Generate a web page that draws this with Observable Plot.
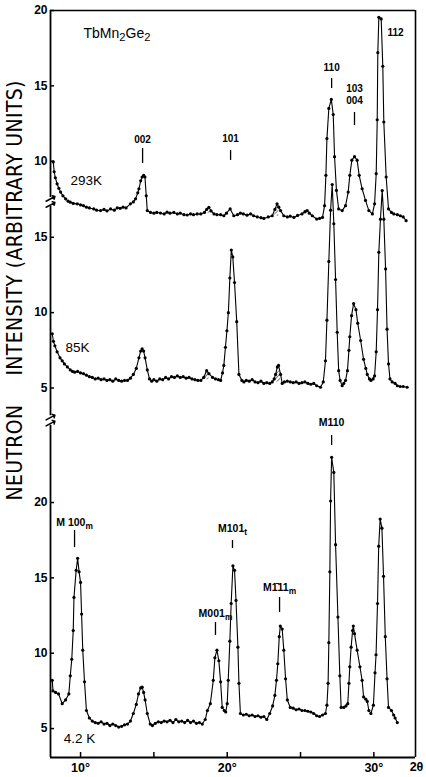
<!DOCTYPE html>
<html><head><meta charset="utf-8">
<script src="https://cdn.jsdelivr.net/npm/d3@7"></script>
<script src="https://cdn.jsdelivr.net/npm/@observablehq/plot@0.6"></script>
<style>body{margin:0;background:#fff}svg{display:block}</style>
</head><body><div id="chart"></div>
<script>
// ---- data: [2θ (deg), intensity (arbitrary units)] ----
const scan293K = [[8.14,9.95],[8.2,9.3],[8.28,8.9],[8.4,8.5],[8.52,8.2],[8.64,7.95],[8.8,7.7],[8.98,7.5],[9.15,7.35],[9.3,7.28],[9.5,7.2],[9.77,7.17],[10.0,7.1],[10.2,7.05],[10.4,6.95],[10.6,6.9],[10.9,6.83],[11.1,6.75],[11.36,6.72],[11.6,6.8],[11.8,6.7],[12.05,6.83],[12.3,6.75],[12.5,6.9],[12.7,6.87],[12.9,6.95],[13.1,6.9],[13.4,7.17],[13.6,7.3],[13.75,7.5],[13.9,7.9],[13.98,8.17],[14.1,8.7],[14.2,8.95],[14.3,9.06],[14.39,8.95],[14.48,7.7],[14.55,6.72],[14.77,6.6],[15.0,6.55],[15.2,6.6],[15.45,6.56],[15.7,6.5],[15.9,6.62],[16.1,6.55],[16.36,6.6],[16.6,6.5],[16.8,6.55],[17.05,6.45],[17.27,6.43],[17.5,6.5],[17.7,6.45],[17.95,6.5],[18.2,6.5],[18.45,6.6],[18.6,6.8],[18.75,6.94],[18.9,6.7],[19.1,6.5],[19.3,6.45],[19.55,6.45],[19.77,6.38],[19.95,6.55],[20.2,6.83],[20.45,6.38],[20.7,6.45],[20.9,6.55],[21.1,6.5],[21.35,6.42],[21.6,6.5],[21.8,6.38],[22.05,6.3],[22.3,6.25],[22.5,6.2],[22.8,6.3],[23.07,6.38],[23.25,6.8],[23.4,7.17],[23.52,6.95],[23.64,6.72],[23.86,6.38],[24.1,6.3],[24.3,6.35],[24.55,6.27],[24.8,6.4],[25.1,6.5],[25.3,6.65],[25.45,6.72],[25.6,6.55],[25.8,6.38],[26.1,6.16],[26.3,6.2],[26.5,6.27],[26.64,7.05],[26.73,9.06],[26.8,11.5],[26.93,13.5],[27.1,14.1],[27.23,13.1],[27.32,10.3],[27.45,8.06],[27.6,6.83],[27.84,6.72],[28.07,7.05],[28.25,7.95],[28.36,9.06],[28.5,10.07],[28.68,10.3],[28.86,10.07],[29.0,9.06],[29.2,8.17],[29.43,7.4],[29.66,6.72],[29.9,6.5],[30.05,7.17],[30.16,9.17],[30.23,12.75],[30.27,17.2],[30.34,19.55],[30.5,19.44],[30.61,16.3],[30.68,12.6],[30.84,8.95],[31.0,6.83],[31.2,6.6],[31.36,6.5],[31.6,6.45],[31.8,6.38],[32.0,6.3],[32.2,6.05]];

const scan85K = [[8.07,8.6],[8.15,8.1],[8.25,7.8],[8.4,7.4],[8.6,7.0],[8.75,6.8],[8.9,6.6],[9.1,6.4],[9.3,6.2],[9.45,6.1],[9.6,6.05],[9.8,6.1],[10.0,6.0],[10.2,5.95],[10.4,5.85],[10.6,5.75],[10.8,5.7],[11.0,5.6],[11.2,5.65],[11.4,5.55],[11.6,5.6],[11.8,5.5],[12.0,5.55],[12.2,5.45],[12.4,5.6],[12.6,5.5],[12.8,5.45],[13.0,5.5],[13.2,5.5],[13.4,5.65],[13.6,5.9],[13.8,6.3],[13.98,7.0],[14.1,7.45],[14.2,7.6],[14.3,7.45],[14.4,7.0],[14.55,6.2],[14.7,5.6],[14.85,5.45],[15.0,5.55],[15.2,5.45],[15.4,5.6],[15.6,5.55],[15.8,5.7],[16.0,5.6],[16.2,5.75],[16.4,5.7],[16.6,5.8],[16.8,5.7],[17.0,5.75],[17.2,5.65],[17.4,5.7],[17.6,5.6],[17.8,5.55],[18.0,5.5],[18.2,5.5],[18.4,5.7],[18.6,6.15],[18.75,5.95],[19.0,5.7],[19.2,5.6],[19.4,5.55],[19.55,5.5],[19.68,6.0],[19.77,6.5],[19.88,7.7],[19.98,8.8],[20.08,10.0],[20.18,12.3],[20.28,14.15],[20.38,13.7],[20.5,12.0],[20.65,9.4],[20.8,5.9],[21.0,5.5],[21.14,5.4],[21.3,5.5],[21.5,5.45],[21.7,5.55],[21.9,5.4],[22.1,5.35],[22.3,5.45],[22.5,5.3],[22.7,5.35],[22.9,5.3],[23.07,5.4],[23.2,5.6],[23.3,5.9],[23.42,6.4],[23.5,6.5],[23.64,5.9],[23.75,5.3],[23.9,5.4],[24.1,5.45],[24.3,5.4],[24.5,5.35],[24.7,5.4],[24.9,5.3],[25.1,5.35],[25.3,5.4],[25.5,5.3],[25.7,5.25],[25.9,5.3],[26.1,5.15],[26.36,5.05],[26.55,5.4],[26.7,6.8],[26.8,9.5],[26.93,13.4],[27.05,16.8],[27.16,18.5],[27.27,15.9],[27.39,12.2],[27.5,8.7],[27.6,6.15],[27.7,5.5],[27.84,5.15],[27.95,5.3],[28.07,5.5],[28.2,6.15],[28.3,7.5],[28.36,8.4],[28.48,9.8],[28.62,10.6],[28.78,10.2],[28.9,9.3],[29.1,8.15],[29.3,6.9],[29.45,6.3],[29.55,5.9],[29.7,5.6],[29.8,5.5],[29.95,5.6],[30.05,5.8],[30.16,7.4],[30.25,10.2],[30.34,14.0],[30.45,16.2],[30.57,18.1],[30.68,16.2],[30.8,12.9],[30.9,8.9],[31.0,6.6],[31.1,5.6],[31.25,5.4],[31.45,5.3],[31.6,5.15],[31.8,5.1],[32.0,5.1],[32.27,5.05]];

const scan4K = [[8.07,8.2],[8.12,7.5],[8.3,7.4],[8.5,7.3],[8.75,6.65],[8.98,6.9],[9.2,7.3],[9.3,8.5],[9.4,9.6],[9.5,11.5],[9.55,13.7],[9.7,15.5],[9.8,16.3],[9.9,15.4],[10.0,14.7],[10.07,12.6],[10.15,10.2],[10.27,8.1],[10.4,6.2],[10.6,5.7],[10.8,5.5],[11.0,5.4],[11.2,5.35],[11.4,5.45],[11.6,5.3],[11.8,5.35],[12.0,5.2],[12.2,5.3],[12.4,5.2],[12.6,5.1],[12.8,5.15],[13.0,5.25],[13.2,5.3],[13.4,5.5],[13.6,6.0],[13.8,6.6],[13.95,7.3],[14.1,7.7],[14.2,7.75],[14.3,7.4],[14.4,6.9],[14.55,6.0],[14.75,5.3],[14.9,5.2],[15.1,5.35],[15.3,5.45],[15.5,5.4],[15.7,5.5],[15.9,5.45],[16.1,5.55],[16.3,5.4],[16.5,5.6],[16.7,5.45],[16.9,5.5],[17.1,5.4],[17.3,5.55],[17.5,5.4],[17.7,5.5],[17.9,5.35],[18.1,5.4],[18.3,5.3],[18.5,5.6],[18.65,6.2],[18.85,6.65],[19.05,8.2],[19.16,9.7],[19.3,10.2],[19.43,9.5],[19.55,8.1],[19.66,6.4],[19.8,6.2],[19.9,6.1],[20.0,6.65],[20.07,8.2],[20.18,10.8],[20.27,13.3],[20.39,15.8],[20.5,15.5],[20.6,13.5],[20.73,10.4],[20.8,8.0],[20.9,6.0],[21.1,5.9],[21.3,5.95],[21.5,5.85],[21.7,5.9],[21.9,5.8],[22.1,5.85],[22.3,5.75],[22.5,5.8],[22.7,5.6],[22.9,6.0],[23.1,6.5],[23.25,7.2],[23.36,8.2],[23.45,9.3],[23.55,11.1],[23.62,11.8],[23.75,11.6],[23.86,10.2],[23.98,8.3],[24.1,6.9],[24.3,6.4],[24.5,6.35],[24.7,6.25],[24.9,6.3],[25.1,6.2],[25.3,6.2],[25.5,6.15],[25.7,6.1],[25.9,6.0],[26.1,5.85],[26.3,5.8],[26.5,5.9],[26.7,6.0],[26.8,6.55],[26.88,8.0],[26.93,10.7],[27.0,15.4],[27.05,20.1],[27.12,23.0],[27.27,22.0],[27.39,17.2],[27.55,12.4],[27.68,8.5],[27.77,6.4],[27.95,6.4],[28.1,6.5],[28.22,6.65],[28.3,8.0],[28.36,9.1],[28.45,10.4],[28.55,11.5],[28.6,11.8],[28.68,11.3],[28.86,10.2],[29.05,9.1],[29.2,8.2],[29.3,7.1],[29.45,6.95],[29.55,6.8],[29.66,6.2],[29.8,6.0],[29.97,6.55],[30.08,8.7],[30.15,9.9],[30.25,13.3],[30.33,17.1],[30.43,18.9],[30.55,18.3],[30.66,15.1],[30.78,11.1],[30.9,8.3],[31.0,6.4],[31.2,6.2],[31.35,5.9],[31.45,5.7],[31.6,5.4]];

// hatched (impurity) bumps: [from 2θ, to 2θ, base intensity]
const hatch293K = [[18.45,18.95,6.55],[23.1,23.6,6.35],[25.2,25.7,6.45]];
const hatch85K = [[18.4,18.8,5.55],[23.1,23.7,5.4]];

// tick values per panel
const yTicks293K = [10, 15, 20];
const yTicks85K = [5, 10, 15];
const yTicks4K = [5, 10, 15, 20];
const xTicks = [10, 15, 20, 25, 30];
const xTickLabels = [10, 20, 30];

// reflection labels: panel, 2θ, intensity of label, tick from, tick to, text
const peakLabels = [
  ["293K", 14.23, 11.44, 9.85, 10.84, "002"],
  ["293K", 20.23, 11.5, 10.05, 10.71, "101"],
  ["293K", 27.12, 16.22, 14.82, 15.49, "110"],
  ["293K", 28.68, 14.82, 12.37, 13.23, "103"],
  ["293K", 28.68, 14.02, null, null, "004"],
  ["293K", 31.48, 18.54, null, null, "112"]
];
const magLabels = [
  ["4.2K", 9.59, 18.67, 17.01, 18.14, "M 100_m"],
  ["4.2K", 20.36, 18.28, 16.95, 17.48, "M101_t"],
  ["4.2K", 19.2, 12.64, 11.18, 12.04, "M001_m"],
  ["4.2K", 23.57, 14.36, 12.7, 13.7, "M1\u030411_m"],
  ["4.2K", 27.12, 25.31, 23.78, 24.45, "M110"]
];
// temperature labels: panel, 2θ (left edge), intensity
const tempLabels = [["293K", 9.32, 8.72, "293K"], ["85K", 8.98, 7.69, "85K"], ["4.2K", 8.85, 4.34, "4.2 K"]];
const compound = "TbMn_2Ge_2";
const yTitle = "NEUTRON\u2003\u2002INTENSITY (ARBITRARY UNITS)";

// ---- layout (stacked panels on one shared axis) ----
const OFFSET = {"293K": 32.65, "85K": 22.6, "4.2K": 0};
const XMIN = 7.95, XMAX = 32.84, YMIN = 3.08, YMAX = 52.65;
const W = 426, H = 777, ML = 50, MR = 11, MT = 10, MB = 20;
const PW = W - ML - MR, PH = H - MT - MB;
const axisSegments = [[YMIN, 25.12], [25.76, 39.66], [40.24, YMAX]];
const breaks = [25.44, 39.95];

const series = [["293K", scan293K], ["85K", scan85K], ["4.2K", scan4K]];
const rows = series.flatMap(([k, pts]) => pts.map(([t, v]) => ({k, t, Y: v + OFFSET[k]})));

const hatchRows = [];
[["293K", scan293K, hatch293K], ["85K", scan85K, hatch85K]].forEach(([k, pts, hs]) => {
  hs.forEach(([a, b, base], i) => {
    pts.filter(([t]) => t >= a && t <= b).forEach(([t, v]) =>
      hatchRows.push({g: k + i, t, Y1: base + OFFSET[k], Y2: Math.max(base, v) + OFFSET[k]}));
  });
});

const yTickRows = [
  ...yTicks4K.map(v => ({Y: v + OFFSET["4.2K"], label: String(v)})),
  ...yTicks85K.map(v => ({Y: v + OFFSET["85K"], label: String(v)})),
  ...yTicks293K.map(v => ({Y: v + OFFSET["293K"], label: String(v)}))
];
const yLabelMap = new Map(yTickRows.map(d => [d.Y, d.label]));

const toRow = ([k, t, v, a, b, text]) => ({t, Y: v + OFFSET[k], text});
const labelRows = peakLabels.map(toRow);
const magRows = magLabels.map(toRow);
const labelTicks = [...peakLabels, ...magLabels].filter(d => d[3] != null).map(([k, t, v, a, b]) => ({t, Y1: a + OFFSET[k], Y2: b + OFFSET[k]}));
const tempRows = tempLabels.map(([k, t, v, text]) => ({t, Y: v + OFFSET[k], text}));

const FONT = "'Liberation Sans', Arial, sans-serif";
const NARROW = "'Liberation Sans Narrow', 'DejaVu Sans Condensed', 'Liberation Sans', sans-serif";

const chart = Plot.plot({
  width: W, height: H,
  marginLeft: ML, marginRight: MR, marginTop: MT, marginBottom: MB,
  style: {fontFamily: FONT, background: "#fff", color: "#000"},
  x: {domain: [XMIN, XMAX]},
  y: {domain: [YMIN, YMAX]},
  marks: [
    // frame
    Plot.ruleY([YMAX], {strokeWidth: 1.6}),
    Plot.ruleY([YMIN], {strokeWidth: 1.8}),
    Plot.ruleX([XMAX], {strokeWidth: 1.6}),
    Plot.ruleX(axisSegments, {x: () => XMIN, y1: d => d[0], y2: d => d[1], strokeWidth: 1.8}),
    Plot.vector(breaks.flatMap(b => [b - 0.2, b + 0.2]), {x: () => XMIN, y: d => d, length: 10, rotate: 62, anchor: "middle", strokeWidth: 1.5}),
    // inward ticks
    Plot.ruleY(yTickRows.map(d => d.Y), {insetRight: PW - 4, strokeWidth: 1.5}),
    Plot.ruleX(xTicks, {insetTop: PH - 5, strokeWidth: 1.5}),
    Plot.axisY(yTickRows.map(d => d.Y), {tickSize: 0, tickPadding: 3, label: null, tickFormat: d => yLabelMap.get(d), fontSize: 12, fontWeight: "bold"}),
    Plot.axisX(xTickLabels, {tickSize: 0, tickPadding: 6, label: null, tickFormat: d => d + "°", fontSize: 12.5, fontWeight: "bold"}),
    Plot.text(["2θ"], {frameAnchor: "bottom-right", textAnchor: "middle", dx: 1, dy: 13, fontSize: 12.5, fontWeight: "bold"}),
    Plot.text([yTitle], {frameAnchor: "left", rotate: -90, textAnchor: "start", dx: -35.5, dy: 116.5, fontSize: 21, fontFamily: NARROW}),
    // hatched impurity contributions
    Plot.areaY(hatchRows, {x: "t", y1: "Y1", y2: "Y2", z: "g", fill: "url(#hatch)"}),
    // data
    Plot.line(rows, {x: "t", y: "Y", z: "k", stroke: "#000", strokeWidth: 1.1}),
    Plot.dot(rows, {x: "t", y: "Y", r: 1.6, fill: "#000"}),
    // annotations
    Plot.ruleX(labelTicks, {x: "t", y1: "Y1", y2: "Y2", strokeWidth: 1.3}),
    Plot.text(labelRows, {x: "t", y: "Y", text: "text", fontSize: 10, fontWeight: "bold"}),
    Plot.text(magRows, {x: "t", y: "Y", text: "text", fontSize: 10.5, fontWeight: "bold", letterSpacing: 0.5}),
    Plot.text(tempRows, {x: "t", y: "Y", text: "text", textAnchor: "start", fontSize: 13.5}),
    Plot.text([compound], {x: () => 10.2, y: () => 18.47 + OFFSET["293K"], text: d => d, textAnchor: "start", fontSize: 14})
  ]
});

// hatch pattern
const defs = document.createElementNS("http://www.w3.org/2000/svg", "defs");
defs.innerHTML = '<pattern id="hatch" patternUnits="userSpaceOnUse" width="3" height="3" patternTransform="rotate(45)"><line x1="0" y1="0" x2="0" y2="3" stroke="#000" stroke-width="1.1"/></pattern>';
chart.insertBefore(defs, chart.firstChild);

// subscripts and title length
chart.querySelectorAll("text").forEach(el => {
  const s = el.textContent;
  if (s.includes("_")) {
    const parts = s.split(/_(\w)/);
    let html = "";
    parts.forEach((p, i) => {
      if (i % 2 === 1) html += `<tspan dy="3" font-size="0.8em">${p}</tspan>`;
      else if (p) html += i === 0 ? `<tspan>${p}</tspan>` : `<tspan dy="-3">${p}</tspan>`;
    });
    el.innerHTML = html;
  }
  if (s === yTitle) {
    el.setAttribute("textLength", "420");
    el.setAttribute("lengthAdjust", "spacing");
  }
});

document.getElementById("chart").appendChild(chart);
</script>
</body></html>
